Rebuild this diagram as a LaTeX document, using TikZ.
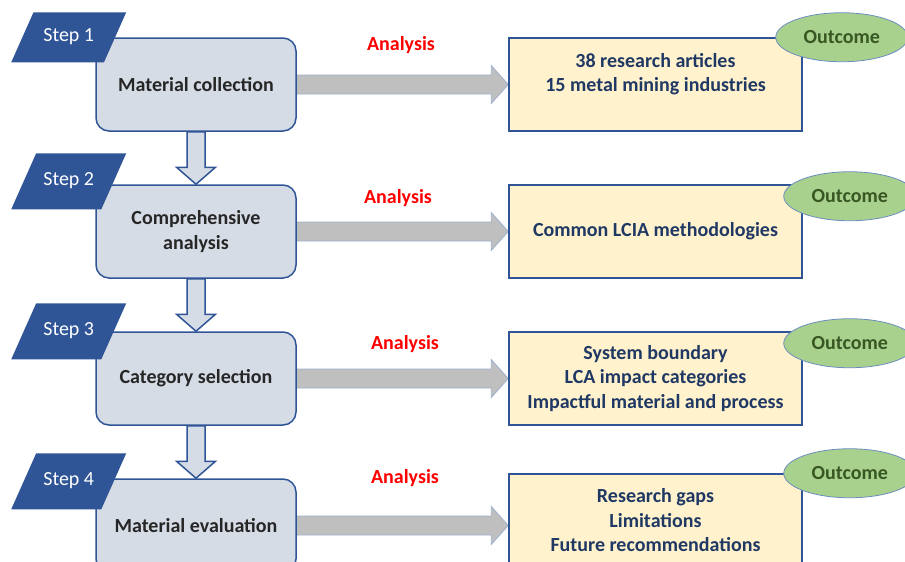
\documentclass[tikz,border=0pt]{standalone}
\usepackage{fontspec}
\setmainfont{Carlito}
\usepackage{tikz}
\usetikzlibrary{arrows, backgrounds, calc, positioning, shapes.geometric}

\definecolor{tagblue}{HTML}{2F5597}
\definecolor{boxgrey}{HTML}{D6DCE5}
\definecolor{boxtext}{HTML}{262626}
\definecolor{outfill}{HTML}{FFF2CC}
\definecolor{outtext}{HTML}{1F3864}
\definecolor{arrowgrey}{HTML}{BFBFBF}
\definecolor{arrowedge}{HTML}{9FB0CC}
\definecolor{ovalfill}{HTML}{A9D18E}
\definecolor{ovaledge}{HTML}{6C8EBF}
\definecolor{ovaltext}{HTML}{385723}

\tikzstyle{stepbox}=[rectangle, rounded corners=13pt, draw=tagblue, fill=boxgrey, line width=1.5pt,
  minimum width=200pt, minimum height=93pt, align=center, text=boxtext,
  font=\fontsize{20}{24.5}\selectfont\bfseries]
\tikzstyle{outbox}=[rectangle, draw=tagblue, fill=outfill, line width=1.5pt,
  minimum width=293pt, minimum height=93pt, align=center, text=outtext,
  font=\fontsize{20}{24.5}\selectfont\bfseries]
\tikzstyle{steptag}=[trapezium, trapezium left angle=66, trapezium right angle=114,
  trapezium stretches body, fill=tagblue, minimum width=115pt,
  text height=13pt, text depth=4pt, inner xsep=0pt, inner ysep=19.5pt,
  text=white, font=\fontsize{20}{24}\selectfont]
\tikzstyle{outtag}=[ellipse, draw=ovaledge, fill=ovalfill, line width=0.8pt, inner sep=0pt,
  minimum width=132pt, minimum height=49pt, text=ovaltext, font=\fontsize{20}{24}\selectfont\bfseries]
\tikzstyle{analysis}=[text=red, font=\fontsize{20}{24}\selectfont\bfseries]
\tikzstyle{hblock}=[draw=arrowedge, fill=arrowgrey, line width=0.8pt,
  to path={let \p1=(\tikztostart), \p2=(\tikztotarget) in
    (\x1,\y1+9.5pt) -- (\x2-17pt,\y1+9.5pt) -- (\x2-17pt,\y1+19pt) -- (\x2,\y1)
    -- (\x2-17pt,\y1-19pt) -- (\x2-17pt,\y1-9.5pt) -- (\x1,\y1-9.5pt) -- cycle}]
\tikzstyle{vblock}=[draw=tagblue, fill=boxgrey, line width=1.5pt,
  to path={let \p1=(\tikztostart), \p2=(\tikztotarget) in
    (\x1-9pt,\y1) -- (\x1-9pt,\y2+17pt) -- (\x1-19.5pt,\y2+17pt) -- (\x1,\y2)
    -- (\x1+19.5pt,\y2+17pt) -- (\x1+9pt,\y2+17pt) -- (\x1+9pt,\y1) -- cycle}]

\begin{document}
\begin{tikzpicture}[x=1pt, y=-1pt]
    \useasboundingbox (0,0) rectangle (905,562);

    % steps
    \node[stepbox] (m1) at (196,84.5)   {Material collection};
    \node[stepbox] (m2) [below=52.5pt of m1] {Comprehensive\\analysis};
    \node[stepbox] (m3) [below=52.5pt of m2] {Category selection};
    \node[stepbox] (m4) [below=52.5pt of m3] {Material evaluation};

    % outcomes
    \node[outbox] (o1) [right=211.5pt of m1] {38 research articles\\15 metal mining industries\\\mbox{}};
    \node[outbox] (o2) [right=211.5pt of m2] {Common LCIA methodologies};
    \node[outbox] (o3) [right=211.5pt of m3] {System boundary\\LCA impact categories\\Impactful material and process};
    \node[outbox] (o4) [right=211.5pt of m4, yshift=5pt] {Research gaps\\Limitations\\Future recommendations};

    \node[steptag, inner ysep=16.5pt] (s1) at ([xshift=-26.5pt]m1.north west) {Step 1};
    \node[steptag] (s2) at ([xshift=-26.5pt, yshift=3pt]m2.north west) {Step 2};
    \node[steptag] (s3) at ([xshift=-26.5pt]m3.north west) {Step 3};
    \node[steptag] (s4) at ([xshift=-26.5pt, yshift=-3pt]m4.north west) {Step 4};

    \node[outtag] (e1) at ([xshift=39pt]o1.north east) {Outcome};
    \node[outtag] (e2) at ([xshift=47pt, yshift=-12pt]o2.north east) {Outcome};
    \node[outtag] (e3) at ([xshift=47pt, yshift=-12pt]o3.north east) {Outcome};
    \node[outtag] (e4) at ([xshift=47pt]o4.north east) {Outcome};

    \node[analysis] (a1) at (401,45)  {Analysis};
    \node[analysis] (a2) at (398,198) {Analysis};
    \node[analysis] (a3) at (405,344) {Analysis};
    \node[analysis] (a4) at (405,478) {Analysis};

    \begin{scope}[on background layer]
      \path (m1.east) edge[hblock] (o1.west)
            (m2.east) edge[hblock] (o2.west)
            (m3.east) edge[hblock] (o3.west)
            (m4.east) edge[hblock] (o4.west)
            (m1.south) edge[vblock] (m2.north)
            (m2.south) edge[vblock] (m3.north)
            (m3.south) edge[vblock] (m4.north);
    \end{scope}
\end{tikzpicture}
\end{document}
